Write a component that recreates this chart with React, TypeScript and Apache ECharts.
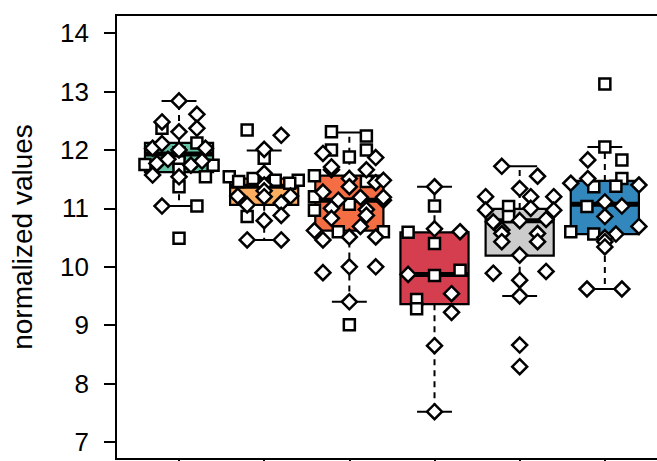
import React, { useEffect, useRef } from "react";
import * as echarts from "echarts";

// Group positions (1..6) and box colours
const groups = [1, 2, 3, 4, 5, 6];
const boxColors = ["#66c2a5", "#fdae61", "#f46d43", "#d53e4f", "#cccccc", "#3288bd"];

// Box statistics per group
const lowerWhisker = [11.04, 10.46, 9.4, 7.52, 9.5, 9.62];
const q1 = [11.62, 11.06, 10.62, 9.36, 10.19, 10.56];
const medians = [11.93, 11.38, 11.14, 9.87, 10.79, 11.07];
const q3 = [12.12, 11.51, 11.56, 10.59, 10.99, 11.47];
const upperWhisker = [12.84, 11.99, 12.3, 11.37, 11.72, 12.05];

// Y-axis ticks
const yTicks = [7, 8, 9, 10, 11, 12, 13, 14];

// Jittered points: [jitter (category units), value]
const diamonds1 = [[0, 12.84], [0.21, 12.61], [-0.2, 12.48], [0, 12.31], [0.21, 12.37], [-0.31, 12.03], [-0.2, 12.11], [0.31, 12.03], [0, 12.0], [-0.26, 11.77], [-0.13, 11.84], [0.14, 11.74], [0.27, 11.81], [-0.31, 11.57], [0, 11.54], [-0.2, 11.04]];
const squares1 = [[-0.2, 12.37], [0.21, 12.12], [0, 11.95], [-0.4, 11.75], [0, 11.8], [0.4, 11.74], [0, 11.67], [0.31, 11.54], [0, 11.37], [0.21, 11.04], [0, 10.49]];

const diamonds2 = [[0.2, 12.25], [0, 12.01], [0, 11.6], [0, 11.4], [0, 11.3], [0, 11.2], [-0.31, 11.21], [0.31, 11.21], [-0.2, 11.06], [0.2, 11.09], [0.2, 10.88], [0, 10.79], [-0.2, 10.46], [0.2, 10.46]];
const squares2 = [[-0.2, 12.34], [0, 11.86], [-0.41, 11.54], [-0.3, 11.46], [-0.13, 11.51], [0.13, 11.48], [0.4, 11.48], [0.3, 11.43], [-0.2, 10.86]];

const diamonds3 = [[-0.31, 11.94], [0.31, 11.87], [-0.21, 11.66], [-0.21, 11.71], [0.2, 11.66], [0, 11.51], [0, 11.37], [0.31, 11.44], [0.4, 11.48], [-0.31, 11.28], [-0.13, 11.14], [0.13, 11.19], [0.4, 11.14], [0.4, 11.19], [-0.21, 11.0], [0.2, 10.98], [0.2, 10.88], [-0.21, 10.83], [0.13, 10.69], [-0.41, 10.62], [-0.31, 10.46], [0, 10.51], [0.31, 10.51], [-0.31, 9.9], [0, 10.0], [0.31, 10.0], [0, 9.4]];
const squares3 = [[-0.21, 12.31], [0.2, 12.24], [-0.21, 12.0], [0.2, 12.0], [0, 11.88], [-0.41, 11.56], [0.2, 11.46], [-0.41, 11.2], [0, 11.07], [-0.41, 10.97], [-0.13, 10.6], [0.4, 10.6], [0, 9.01]];

const diamonds4 = [[0, 11.37], [0, 10.65], [0.3, 10.6], [-0.31, 9.87], [0.2, 9.54], [0.2, 9.22], [0, 8.65], [0, 7.52]];
const squares4 = [[0, 11.04], [-0.31, 10.59], [0, 10.4], [0, 9.85], [0.3, 9.94], [-0.21, 9.44], [-0.21, 9.28]];

const diamonds5 = [[-0.21, 11.72], [0.21, 11.55], [0, 11.34], [-0.4, 11.2], [0.13, 11.2], [0.4, 11.2], [-0.4, 10.97], [0.13, 11.0], [0.4, 10.97], [-0.31, 10.77], [0, 10.79], [0.31, 10.81], [-0.21, 10.63], [-0.21, 10.57], [-0.21, 10.43], [0.21, 10.57], [0.21, 10.43], [0, 10.2], [-0.31, 9.89], [0.31, 9.92], [0, 9.77], [0, 9.5], [0, 8.66], [0, 8.29]];
const squares5 = [[-0.13, 11.03], [-0.13, 10.86]];

const diamonds6 = [[-0.2, 11.83], [-0.2, 11.51], [-0.4, 11.43], [0.4, 11.4], [0, 11.11], [0.2, 11.04], [0, 10.86], [0.4, 10.69], [0.13, 10.56], [0, 10.5], [0, 10.43], [0, 10.34], [-0.21, 9.62], [0.2, 9.62]];
const squares6 = [[0, 13.13], [0, 12.05], [0.2, 11.83], [0.2, 11.51], [-0.13, 11.37], [0.13, 11.38], [-0.21, 11.03], [-0.4, 10.6], [-0.13, 10.56]];

const diamondSets = [diamonds1, diamonds2, diamonds3, diamonds4, diamonds5, diamonds6];
const squareSets = [squares1, squares2, squares3, squares4, squares5, squares6];

const FONT = "'Liberation Sans', Arial, Helvetica, sans-serif";

export default function App() {
  const ref = useRef<HTMLDivElement>(null);

  useEffect(() => {
    if (!ref.current) return;
    const chart = echarts.init(ref.current, undefined, { renderer: "svg" });

    const boxData = groups.map((g, i) => [g, lowerWhisker[i], q1[i], medians[i], q3[i], upperWhisker[i], i]);
    const toPoints = (sets: number[][][]) =>
      sets.flatMap((set, i) => set.map(([j, v]) => [groups[i] + j, v]));

    const renderBox = (params: any, api: any) => {
      const x = api.value(0);
      const lo = api.value(1);
      const a = api.value(2);
      const m = api.value(3);
      const b = api.value(4);
      const hi = api.value(5);
      const idx = api.value(6);
      const half = api.size([0.4, 0])[0];
      const capHalf = api.size([0.205, 0])[0];
      const pLo = api.coord([x, lo]);
      const pA = api.coord([x, a]);
      const pM = api.coord([x, m]);
      const pB = api.coord([x, b]);
      const pHi = api.coord([x, hi]);
      const cx = pA[0];
      const lineStyle = { stroke: "#000", lineWidth: 2 };
      const dashStyle = { stroke: "#000", lineWidth: 2, lineDash: [6, 5] };
      return {
        type: "group",
        children: [
          { type: "line", shape: { x1: cx, y1: pB[1], x2: cx, y2: pHi[1] }, style: dashStyle },
          { type: "line", shape: { x1: cx, y1: pA[1], x2: cx, y2: pLo[1] }, style: dashStyle },
          { type: "line", shape: { x1: cx - capHalf, y1: pHi[1], x2: cx + capHalf, y2: pHi[1] }, style: lineStyle },
          { type: "line", shape: { x1: cx - capHalf, y1: pLo[1], x2: cx + capHalf, y2: pLo[1] }, style: lineStyle },
          {
            type: "rect",
            shape: { x: cx - half, y: pB[1], width: half * 2, height: pA[1] - pB[1] },
            style: { fill: boxColors[idx], stroke: "#000", lineWidth: 2.2 },
          },
          { type: "line", shape: { x1: cx - half, y1: pM[1], x2: cx + half, y2: pM[1] }, style: { stroke: "#000", lineWidth: 5 } },
        ],
      };
    };

    const markerStyle = { color: "#ffffff", borderColor: "#000000", borderWidth: 2.5, opacity: 1 };

    chart.setOption({
      animation: false,
      backgroundColor: "#ffffff",
      grid: {
        left: 116,
        top: 15,
        width: 574,
        height: 444,
        outerBoundsMode: "none",
        containLabel: false,
        show: true,
        borderColor: "#000",
        borderWidth: 2,
        backgroundColor: "transparent",
      },
      xAxis: {
        type: "value",
        min: 0.26,
        max: 7,
        axisLine: { show: true, onZero: false, lineStyle: { color: "#000", width: 2 } },
        axisTick: { show: true, length: 10, customValues: groups, lineStyle: { color: "#000", width: 2 } },
        axisLabel: { show: false },
        splitLine: { show: false },
      },
      yAxis: {
        type: "value",
        min: 6.71,
        max: 14.31,
        name: "normalized values",
        nameLocation: "middle",
        nameGap: 80,
        nameRotate: 90,
        nameTextStyle: { fontSize: 28, color: "#000", fontFamily: FONT },
        axisLine: { show: true, lineStyle: { color: "#000", width: 2 } },
        axisTick: { show: true, length: 12, customValues: yTicks, lineStyle: { color: "#000", width: 2 } },
        axisLabel: { show: true, customValues: yTicks, margin: 27, fontSize: 26, color: "#000", fontFamily: FONT },
        splitLine: { show: false },
      },
      series: [
        {
          type: "custom",
          renderItem: renderBox,
          data: boxData,
          encode: { x: 0, y: [1, 2, 3, 4, 5] },
          z: 2,
        },
        {
          type: "scatter",
          symbol: "rect",
          symbolSize: 11,
          itemStyle: markerStyle,
          data: toPoints(squareSets),
          z: 3,
        },
        {
          type: "scatter",
          symbol: "diamond",
          symbolSize: 15,
          itemStyle: markerStyle,
          data: toPoints(diamondSets),
          z: 4,
        },
      ],
    });

    return () => chart.dispose();
  }, []);

  return <div ref={ref} style={{ position: "absolute", left: 0, top: 0, width: 657, height: 461 }} />;
}
